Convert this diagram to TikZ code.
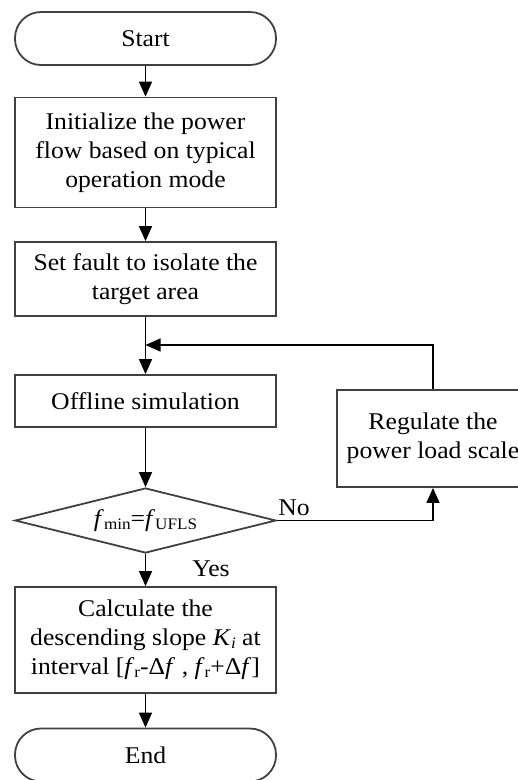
\documentclass[tikz,border=0pt]{standalone}
\usepackage{fontspec}
\setmainfont{Liberation Serif}[FakeStretch=1.07]
\usetikzlibrary{shapes.geometric,arrows.meta}

\newcommand{\lowsub}[1]{\raisebox{-0.25ex}{\fontsize{16}{16}\selectfont #1}}

\begin{document}
\begin{tikzpicture}[x=1pt,y=-1pt,
			every node/.style={font=\fontsize{24}{29}\selectfont},
			box node/.style={rectangle,draw=black!75,line width=1.8pt,minimum width=\boxw pt,align=center,inner sep=0pt},
			end node/.style={box node,rounded corners=26pt,minimum height=53pt},
			test node/.style={diamond,draw=black!75,line width=1.8pt,minimum width=\boxw pt,minimum height=65pt,aspect=4,inner sep=0pt},
			line/.style={line width=1.5pt,-{Triangle[length=15pt,width=13pt]}}
			]
			
			\def \boxw {261};
			\def \cx {145.5};
			
			\useasboundingbox (0,0) rectangle (518,780);
			
			\node[end node] (start) at (\cx,38.5) {Start};
			\node[box node,minimum height=110pt] (init) at (\cx,152.5) {Initialize the power\\flow based on typical\\operation mode};
			\node[box node,minimum height=74pt] (fault) at (\cx,279) {Set fault to isolate the\\target area};
			\node[box node,minimum height=52pt] (sim) at (\cx,401) {Offline simulation};
			\node[test node] (test) at (\cx,520.5) {\textit{f}\lowsub{min}=\textit{f}\lowsub{UFLS}};
			\node[box node,minimum height=106pt] (calc) at (\cx,640) {Calculate the\\descending slope \textit{K}\lowsub{\textit{i}} at\\interval [\textit{f}\lowsub{r}-Δ\textit{f} , \textit{f}\lowsub{r}+Δ\textit{f}]};
			\node[end node] (end) at (\cx,755) {End};
			\node[box node,minimum width=192pt,minimum height=97pt] (reg) at (433,438.5) {Regulate the\\power load scale};
			\coordinate (join) at (\cx,345);
			
			\node (no) at (294,508) {No};
			\node (yes) at (211,569) {Yes};
			
			\draw[line] (start) -- (init);
			\draw[line] (init) -- (fault);
			\draw[line] (fault) -- (sim);
			\draw[line] (sim) -- (test);
			\draw[line] (test) -- (calc);
			\draw[line] (calc) -- (end);
			\draw[line] (test.east) -| (reg.south);
			\draw[line] (reg.north) |- (join);
			
			\end{tikzpicture}
\end{document}
